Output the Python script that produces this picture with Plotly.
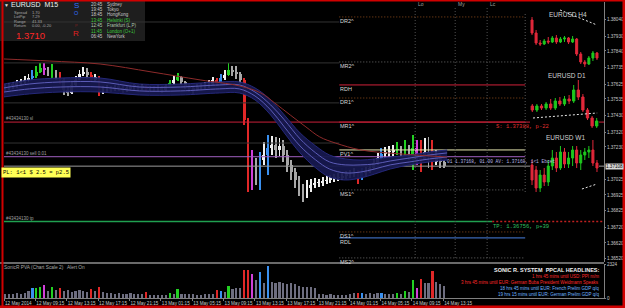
import plotly.graph_objects as go

W, H = 625, 308
def PX(x): return x / W
def PY(y): return 1 - y / H

# ---------------- data ----------------
time_labels = ["12 May 2014", "12 May 09:15", "12 May 13:15", "12 May 17:15", "12 May 21:15",
               "13 May 01:15", "13 May 05:15", "13 May 09:15", "13 May 13:15", "13 May 17:15",
               "13 May 21:15", "14 May 01:15", "14 May 05:15", "14 May 09:15", "14 May 13:15"]
bars_per_label = 16          # 4 hours of M15 bars
bars_per_sample = 2          # each sample below covers 30 minutes (2 M15 bars)

m15_first_open = 1.37598
m15_close = [1.37605, 1.37618, 1.37624, 1.37637, 1.37643, 1.37656, 1.37668, 1.37681, 1.37707, 1.37732,
             1.37719, 1.37707, 1.37694, 1.37687, 1.37656, 1.37592, 1.37573, 1.37624, 1.37656, 1.37694,
             1.37707, 1.37687, 1.37656, 1.37675, 1.37573, 1.37592, 1.37605, 1.37599, 1.37611, 1.37605,
             1.37592, 1.37599, 1.37611, 1.37618, 1.37605, 1.37611, 1.37599, 1.37605, 1.37599, 1.37605,
             1.37592, 1.37618, 1.37637, 1.37656, 1.37675, 1.37643, 1.37618, 1.37605, 1.37592, 1.37611,
             1.37618, 1.37624, 1.37630, 1.37656, 1.37637, 1.37668, 1.37687, 1.37719, 1.37707, 1.37694,
             1.37656, 1.37402, 1.37052, 1.37116, 1.37052, 1.37147, 1.37179, 1.37224, 1.37243, 1.37211,
             1.37236, 1.37179, 1.37116, 1.37071, 1.37020, 1.36957, 1.36925, 1.36969, 1.36989, 1.37001,
             1.37001, 1.37014, 1.37020, 1.37027, 1.37033, 1.37039, 1.37046, 1.37052, 1.37058, 1.37071,
             1.37033, 1.37065, 1.37071, 1.37097, 1.37128, 1.37160, 1.37186, 1.37198, 1.37198, 1.37211,
             1.37217, 1.37205, 1.37224, 1.37179, 1.37224, 1.37166, 1.37147, 1.37198, 1.37173, 1.37135,
             1.37160, 1.37135, 1.37109]
m15_high = [1.37630, 1.37637, 1.37643, 1.37656, 1.37662, 1.37681, 1.37694, 1.37719, 1.37745, 1.37764,
            1.37764, 1.37738, 1.37757, 1.37719, 1.37707, 1.37668, 1.37618, 1.37643, 1.37681, 1.37719,
            1.37738, 1.37732, 1.37707, 1.37694, 1.37681, 1.37618, 1.37624, 1.37618, 1.37624, 1.37624,
            1.37618, 1.37618, 1.37624, 1.37630, 1.37624, 1.37630, 1.37624, 1.37618, 1.37618, 1.37624,
            1.37618, 1.37630, 1.37656, 1.37681, 1.37700, 1.37681, 1.37649, 1.37630, 1.37618, 1.37630,
            1.37637, 1.37643, 1.37656, 1.37675, 1.37668, 1.37694, 1.37719, 1.37764, 1.37745, 1.37745,
            1.37707, 1.37668, 1.37414, 1.37211, 1.37160, 1.37198, 1.37262, 1.37306, 1.37300, 1.37294,
            1.37287, 1.37274, 1.37211, 1.37147, 1.37097, 1.37046, 1.36995, 1.37020, 1.37027, 1.37033,
            1.37027, 1.37039, 1.37046, 1.37052, 1.37058, 1.37065, 1.37071, 1.37078, 1.37084, 1.37097,
            1.37084, 1.37097, 1.37103, 1.37122, 1.37154, 1.37192, 1.37224, 1.37230, 1.37236, 1.37243,
            1.37262, 1.37236, 1.37274, 1.37243, 1.37306, 1.37274, 1.37274, 1.37287, 1.37294, 1.37274,
            1.37211, 1.37179, 1.37147]
m15_low = [1.37586, 1.37592, 1.37599, 1.37605, 1.37618, 1.37630, 1.37643, 1.37656, 1.37668, 1.37700,
           1.37687, 1.37681, 1.37668, 1.37656, 1.37630, 1.37560, 1.37554, 1.37567, 1.37618, 1.37656,
           1.37681, 1.37662, 1.37643, 1.37649, 1.37554, 1.37567, 1.37579, 1.37579, 1.37586, 1.37586,
           1.37573, 1.37579, 1.37592, 1.37592, 1.37586, 1.37592, 1.37579, 1.37586, 1.37579, 1.37586,
           1.37573, 1.37586, 1.37605, 1.37624, 1.37649, 1.37624, 1.37599, 1.37579, 1.37567, 1.37586,
           1.37592, 1.37599, 1.37605, 1.37624, 1.37618, 1.37630, 1.37656, 1.37681, 1.37681, 1.37662,
           1.37630, 1.37370, 1.36944, 1.36957, 1.36989, 1.36957, 1.37116, 1.37052, 1.37179, 1.37160,
           1.37173, 1.37135, 1.37071, 1.37020, 1.36969, 1.36919, 1.36881, 1.36906, 1.36944, 1.36969,
           1.36976, 1.36982, 1.36995, 1.37001, 1.37008, 1.37014, 1.37020, 1.37027, 1.37033, 1.37039,
           1.36995, 1.37020, 1.37046, 1.37065, 1.37084, 1.37116, 1.37147, 1.37160, 1.37166, 1.37173,
           1.37179, 1.37173, 1.37179, 1.37147, 1.37084, 1.37116, 1.37071, 1.37147, 1.37097, 1.37084,
           1.37116, 1.37097, 1.37097]
# PVA class per sample: n normal, g climax bull, r climax bear, b rising bull, m rising bear
pva_class = list("nnnnnnnbgg" "mngnrnnnnn" "nnrnrnnnnn" "nnnnnnrnnn" "nngngnnnnn"
                 "nnnnrbngnn" "nrrmnbnbnn" "nnnnnnnnnn" "nnnnnnnnnn" "rbnnnnbnnn"
                 "gngngmrnnr" "nnn")
volume = [280, 300, 250, 320, 300, 350, 490, 700, 700, 770,
          900, 490, 770, 560, 700, 500, 560, 450, 500, 540,
          500, 420, 630, 500, 770, 420, 380, 320, 300, 350,
          280, 300, 330, 290, 310, 250, 420, 210, 220, 200,
          230, 210, 350, 250, 630, 300, 280, 250, 260, 220,
          240, 300, 260, 280, 560, 490, 420, 840, 630, 700,
          700, 1960, 1960, 1680, 1260, 1820, 1050, 2240, 1120, 1050,
          1100, 1050, 1000, 1050, 980, 840, 800, 800, 760, 700,
          280, 250, 230, 260, 210, 240, 220, 210, 280, 350,
          350, 350, 280, 350, 280, 350, 350, 280, 280, 300,
          350, 300, 490, 420, 1260, 700, 1330, 1050, 1050, 1890,
          1120, 980, 840]
volume_max_label = 2324

# Moving-average ribbon (M15 bar index, price)
ribbon_t = [0, 13, 29, 49, 69, 90, 110, 120, 128, 136, 143, 151, 159, 166, 174, 182, 189, 197, 207, 217, 226]
ribbon_upper = [1.37630, 1.37656, 1.37668, 1.37668, 1.37630, 1.37630, 1.37643, 1.37643, 1.37605, 1.37529, 1.37433,
                1.37319, 1.37236, 1.37179, 1.37154, 1.37147, 1.37154, 1.37166, 1.37179, 1.37198, 1.37211]
ribbon_fast = [1.37605, 1.37630, 1.37643, 1.37643, 1.37611, 1.37611, 1.37624, 1.37624, 1.37579, 1.37497, 1.37402,
               1.37281, 1.37192, 1.37135, 1.37116, 1.37116, 1.37122, 1.37141, 1.37160, 1.37179, 1.37192]
ribbon_slow = [1.37579, 1.37599, 1.37611, 1.37611, 1.37586, 1.37586, 1.37599, 1.37599, 1.37554, 1.37465, 1.37357,
               1.37236, 1.37147, 1.37090, 1.37065, 1.37071, 1.37090, 1.37116, 1.37135, 1.37154, 1.37166]
ribbon_lower = [1.37548, 1.37567, 1.37579, 1.37579, 1.37560, 1.37560, 1.37573, 1.37573, 1.37529, 1.37433, 1.37319,
                1.37192, 1.37097, 1.37039, 1.37020, 1.37033, 1.37058, 1.37090, 1.37116, 1.37135, 1.37147]
slow_ma_t = [0, 23, 49, 75, 100, 120, 131, 138, 146, 154, 161, 169, 182, 202, 226]
slow_ma = [1.37789, 1.37776, 1.37757, 1.37707, 1.37656, 1.37618, 1.37573, 1.37510, 1.37433, 1.37357,
           1.37294, 1.37255, 1.37211, 1.37186, 1.37166]

# Daily pivot levels (drawn from the start of 14 May)
pivot_names = ["DR2^", "MR2^", "RDH", "DR1^", "MR1^", "PV1^", "MS1^", "DS1^", "RDL", "MS2^"]
pivot_prices = [1.38056, 1.37770, 1.37624, 1.37541, 1.37388, 1.37211, 1.36957, 1.36690, 1.36652, 1.36525]
prev_levels = [1.38024, 1.37764, 1.37510, 1.37255]

order_ticket = "#43434130"
order_open = 1.37168
order_sl = 1.37388
order_tp = 1.36756
bid = 1.37108
session_t = [209.7, 230.1, 246.4]
session_names = ["Lo", "My", "Lc"]

price_ticks = [1.38040, 1.37930, 1.37840, 1.37735, 1.37625, 1.37535, 1.37430, 1.37320, 1.37230,
               1.37025, 1.36925, 1.36825, 1.36720, 1.36620, 1.36520]

# Mini charts
h4_open = [1.37864, 1.37630, 1.37450, 1.37432, 1.37486, 1.37468, 1.37540, 1.37468, 1.37522, 1.37540, 1.37468, 1.37522, 1.37252, 1.37108, 1.37072, 1.37180, 1.37270]
h4_high = [1.37918, 1.37684, 1.37504, 1.37522, 1.37558, 1.37576, 1.37594, 1.37558, 1.37576, 1.37558, 1.37576, 1.37540, 1.37288, 1.37144, 1.37216, 1.37306, 1.37288]
h4_low = [1.37594, 1.37414, 1.37396, 1.37414, 1.37432, 1.37450, 1.37432, 1.37450, 1.37468, 1.37432, 1.37450, 1.37216, 1.37072, 1.37018, 1.37054, 1.37126, 1.37144]
h4_close = [1.37630, 1.37450, 1.37432, 1.37486, 1.37468, 1.37540, 1.37468, 1.37522, 1.37540, 1.37468, 1.37522, 1.37252, 1.37108, 1.37072, 1.37180, 1.37270, 1.37180]
h4_trend_x = [6.9, 16.0]
h4_trend_y = [1.38044, 1.37774]

d1_open = [1.3844, 1.3820, 1.3844, 1.3832, 1.3856, 1.3832, 1.3874, 1.3856, 1.3886, 1.3874, 1.3940, 1.3898, 1.3820, 1.3772, 1.3724]
d1_high = [1.3856, 1.3856, 1.3856, 1.3868, 1.3886, 1.3892, 1.3898, 1.3904, 1.3910, 1.3970, 1.4000, 1.3916, 1.3832, 1.3784, 1.3772]
d1_low = [1.3808, 1.3808, 1.3820, 1.3820, 1.3820, 1.3820, 1.3844, 1.3844, 1.3856, 1.3862, 1.3880, 1.3808, 1.3760, 1.3712, 1.3712]
d1_close = [1.3820, 1.3844, 1.3832, 1.3856, 1.3832, 1.3874, 1.3856, 1.3886, 1.3874, 1.3940, 1.3898, 1.3820, 1.3772, 1.3724, 1.3754]
d1_trend_x = [0.15, 14.1]
d1_trend_y = [1.3772, 1.3802]

w1_open = [1.3740, 1.3700, 1.3556, 1.3660, 1.3604, 1.3732, 1.3796, 1.3716, 1.3844, 1.3748, 1.3796, 1.3860, 1.3756, 1.3820, 1.3844, 1.3860, 1.3756]
w1_high = [1.3780, 1.3732, 1.3700, 1.3716, 1.3780, 1.3860, 1.3844, 1.3892, 1.3876, 1.3844, 1.3892, 1.3892, 1.3860, 1.3876, 1.3892, 1.3940, 1.3780]
w1_low = [1.3580, 1.3524, 1.3524, 1.3572, 1.3572, 1.3700, 1.3684, 1.3700, 1.3716, 1.3716, 1.3732, 1.3716, 1.3700, 1.3780, 1.3796, 1.3732, 1.3684]
w1_close = [1.3620, 1.3556, 1.3660, 1.3604, 1.3732, 1.3796, 1.3716, 1.3844, 1.3748, 1.3796, 1.3860, 1.3756, 1.3820, 1.3844, 1.3860, 1.3756, 1.3716]
w1_trend_x = [12.3, 16.0]
w1_trend_y = [1.3548, 1.3588]

headline_title = "SONIC R. SYSTEM  PPCAL HEADLINES:"
headlines = ["1 hrs 45 mins until USD: PPI m/m",
             "3 hrs 45 mins until EUR: German Buba President Weidmann Speaks",
             "18 hrs 45 mins until EUR: French Prelim GDP q/q",
             "19 hrs 15 mins until EUR: German Prelim GDP q/q"]
headline_colors = ["#ff2a2a", "#ff2a2a", "#6fb4ff", "#6fb4ff"]

session_clock = ["20:45", "19:45", "18:45", "13:45", "12:45", "11:45", "06:45"]
session_city = ["Sydney", "Tokyo", "HongKong", "Helsinki (S)", "Frankfurt (L,P)", "London (O+1)", "NewYork"]
session_color = ["#c8c8c8", "#c8c8c8", "#c8c8c8", "#3cc83c", "#b0c8b0", "#3cc83c", "#c8c8c8"]
info_labels = ["Spread", "LotPip", "Range", "Return"]
info_values = ["1.70", "7.29", "41.33", "0.00, -0.20"]
big_price = "1.3710"

# ---------------- geometry / styles ----------------
T_END = 306.0      # M15 bars visible across the chart
T_DAY = 171.0      # start of 14 May
T_FRAME = 265.8    # left edge of the mini-chart area
T_TP_SPLIT = 249.0
Y_MAX, Y_MIN = 1.38151, 1.36499
FONT = "Liberation Sans"
MONO = "Liberation Mono"

fig = go.Figure()

def hline(price, t0, t1, color, dash=None, width=1.0, xa="x", ya="y"):
    fig.add_trace(go.Scatter(x=[t0, t1], y=[price, price], mode="lines", xaxis=xa, yaxis=ya,
                             line=dict(color=color, width=width, dash=dash), hoverinfo="skip", showlegend=False))

DOT = "1px,2px"

# previous-day levels
for p in prev_levels:
    hline(p, 0, T_DAY, "#333333", None, 1)

# pivot levels
pivot_style = {"DR2^": ("#8a4a1a", DOT), "MR2^": ("#6a6a6a", DOT), "RDH": ("#d0203a", None),
               "DR1^": ("#8a4a1a", DOT), "MR1^": ("#c02030", None), "PV1^": ("#e8e8b0", None),
               "MS1^": ("#6a6a6a", DOT), "DS1^": ("#8a4a1a", DOT), "RDL": ("#4a80e0", None),
               "MS2^": ("#6a6a6a", DOT)}
for name, p in zip(pivot_names, pivot_prices):
    c, d = pivot_style[name]
    hline(p, T_DAY, T_FRAME, c, d, 1)

# order lines
hline(order_sl, 0, T_END, "#c8203a", None, 1)
hline(order_open, 0, T_FRAME, "#a060c0", None, 1)
hline(bid, 0, T_END, "#9a9a9a", None, 1)
hline(order_tp, 0, T_TP_SPLIT, "#20a050", None, 1.5)
hline(order_tp, T_TP_SPLIT, T_END, "#c02020", "2px,2px", 1.5)

# MA ribbon
fig.add_trace(go.Scatter(x=ribbon_t, y=ribbon_lower, mode="lines", line=dict(color="#25287a", width=1, shape="spline"),
                         hoverinfo="skip", showlegend=False))
fig.add_trace(go.Scatter(x=ribbon_t, y=ribbon_upper, mode="lines", line=dict(color="#25287a", width=1, shape="spline"),
                         fill="tonexty", fillcolor="rgba(22,24,78,0.95)", hoverinfo="skip", showlegend=False))
for arr in (ribbon_fast, ribbon_slow):
    fig.add_trace(go.Scatter(x=ribbon_t, y=arr, mode="lines", line=dict(color="#5c5cb8", width=1, shape="spline"),
                             hoverinfo="skip", showlegend=False))
fig.add_trace(go.Scatter(x=slow_ma_t, y=slow_ma, mode="lines", line=dict(color="#8e2b2b", width=1, shape="spline"),
                         hoverinfo="skip", showlegend=False))

# candles
n = len(m15_close)
t = [bars_per_sample * j + 0.5 for j in range(n)]
opens = [m15_first_open] + m15_close[:-1]
pva_colors = {"g": "#22d022", "b": "#3a90f0", "r": "#e02828", "m": "#d040d8"}
vol_colors, candle_colors = [], []
for j in range(n):
    k = pva_class[j]
    if k == "n":
        candle_colors.append("#f0f0f0" if m15_close[j] >= opens[j] else "#a8a8a8")
        vol_colors.append("#6e6e80")
    else:
        candle_colors.append(pva_colors[k])
        vol_colors.append(pva_colors[k])
fig.add_trace(go.Bar(x=t, y=[h - l for h, l in zip(m15_high, m15_low)], base=m15_low, width=0.5,
                     marker=dict(color=candle_colors, line=dict(width=0)), hoverinfo="skip", showlegend=False))
fig.add_trace(go.Bar(x=t, y=[max(abs(c - o), 0.00003) for c, o in zip(m15_close, opens)],
                     base=[min(c, o) for c, o in zip(m15_close, opens)], width=1.4,
                     marker=dict(color=candle_colors, line=dict(width=0)), hoverinfo="skip", showlegend=False))

# volume
fig.add_trace(go.Bar(x=t, y=volume, width=1.1, xaxis="x2", yaxis="y2",
                     marker=dict(color=vol_colors, line=dict(width=0)), hoverinfo="skip", showlegend=False))

# mini charts
def mini(o, h, l, c, xa, ya, tx, ty):
    fig.add_trace(go.Candlestick(x=list(range(len(o))), open=o, high=h, low=l, close=c, xaxis=xa, yaxis=ya,
                                 increasing=dict(line=dict(color="#1ec81e", width=1), fillcolor="#1ec81e"),
                                 decreasing=dict(line=dict(color="#e0283a", width=1), fillcolor="#e0283a"),
                                 whiskerwidth=0, hoverinfo="skip", showlegend=False))
    fig.add_trace(go.Scatter(x=tx, y=ty, mode="lines", xaxis=xa, yaxis=ya,
                             line=dict(color="#e8e8e8", width=1, dash="2px,2px"), hoverinfo="skip", showlegend=False))

mini(h4_open, h4_high, h4_low, h4_close, "x3", "y3", h4_trend_x, h4_trend_y)
mini(d1_open, d1_high, d1_low, d1_close, "x4", "y4", d1_trend_x, d1_trend_y)
mini(w1_open, w1_high, w1_low, w1_close, "x5", "y5", w1_trend_x, w1_trend_y)

# ---------------- layout ----------------
ann = []
def text(x, y, s, size=5.5, color="#c8c8c8", xanchor="left", yanchor="middle", family=FONT, xref="paper", yref="paper", **kw):
    kw.setdefault("borderpad", 0)
    ann.append(dict(x=x, y=y, text=s, showarrow=False, xref=xref, yref=yref, xanchor=xanchor, yanchor=yanchor,
                    font=dict(size=size, color=color, family=family), **kw))

# pivot labels
for name, p in zip(pivot_names, pivot_prices):
    text(T_DAY, p, name, 5.5, "#d8d8d8", "left", "top", xref="x", yref="y")
# order labels (left)
text(0.5, order_sl, order_ticket + " sl", 4.5, "#a0a0a0", "left", "bottom", xref="x", yref="y")
text(0.5, order_open, order_ticket + " sell 0.01", 4.5, "#a0a0a0", "left", "bottom", xref="x", yref="y")
text(0.5, order_tp, order_ticket + " tp", 4.5, "#a0a0a0", "left", "bottom", xref="x", yref="y")
text(PX(1), PY(172), "PL: 1&lt;1 $ 2.5 = p2.5", 5.5, "#000000", "left", "middle", MONO, bgcolor="#ffff55", borderpad=1)
text(250.5, order_sl, "S: %.5f, p-22" % order_sl, 5.5, "#e03030", "left", "top", MONO, xref="x", yref="y")
text(T_TP_SPLIT, order_tp, "TP: %.5f, p+39" % order_tp, 5.5, "#30c060", "left", "top", MONO, xref="x", yref="y")
text(225.5, 1.37135, "01 %.5f, 01.00 AV: %.5f, 1&lt;1 Ebcet" % (order_open, order_open), 4.5, "#b8b8e8", "left", "middle", MONO,
     xref="x", yref="y")
# current bid label on price scale
text(PX(605), bid, "%.5f" % bid, 4.6, "#000000", "left", "middle", yref="y", bgcolor="#d8d8d8")
# session markers
for st, sn in zip(session_t, session_names):
    text(st + 1, PY(4), sn, 5, "#a0a0a0", "left", "middle", xref="x")

# mini chart titles
text(PX(548), PY(15), "EURUSD H4", 6.5, "#d0d0d0")
text(PX(547), PY(76), "EURUSD D1", 6.5, "#d0d0d0")
text(PX(545), PY(137), "EURUSD W1", 6.5, "#d0d0d0")

# info panel
text(PX(3), PY(4.8), "▼", 5, "#e0e0e0")
text(PX(10), PY(4.8), "EURUSD  M15", 7, "#f0f0f0")
for i, (lab, val) in enumerate(zip(info_labels, info_values)):
    y = 12.6 + 4.3 * i
    text(PX(13), PY(y), lab, 4.0, "#a8a8a8")
    text(PX(31), PY(y), val, 4.0, "#a8a8a8")
text(PX(15), PY(35), big_price, 9.5, "#ff2828")
text(PX(76), PY(5.5), "S", 8, "#2f6fff", "center")
text(PX(76), PY(12.5), "O", 5.5, "#2f6fff", "center")
text(PX(76), PY(26), "P", 4, "#802020", "center")
text(PX(76), PY(34), "R", 8, "#e02020", "center")
for i, (clk, city, col) in enumerate(zip(session_clock, session_city, session_color)):
    y = 4.2 + 5.4 * i
    text(PX(90), PY(y), clk, 4.5, col)
    text(PX(106), PY(y), city, 4.5, col)

# volume panel texts
text(PX(3), PY(267.5), "SonicR PVA (Chart Scale 2)   Alert On", 4.8, "#a8a8a8")
text(PX(600), PY(270), "<b>" + headline_title + "</b>", 5.5, "#f0f0f0", "right")
for i, (hl, hc) in enumerate(zip(headlines, headline_colors)):
    text(PX(600), PY(276 + 6 * i), hl, 4.5, hc, "right")

shapes = [
    dict(type="rect", xref="paper", yref="paper", x0=0, x1=PX(145), y0=PY(41), y1=1, fillcolor="#1e1e1e",
         line=dict(width=0), layer="below"),
    dict(type="rect", xref="paper", yref="paper", x0=0, x1=PX(604), y0=PY(264), y1=PY(262), fillcolor="#6a6a6a",
         line=dict(width=0)),
    dict(type="line", xref="x", yref="paper", x0=T_FRAME, x1=T_FRAME, y0=PY(192), y1=PY(12),
         line=dict(color="#5a5a5a", width=1, dash=DOT)),
    dict(type="rect", xref="paper", yref="paper", x0=0, x1=1, y0=PY(1.5), y1=1, fillcolor="#d00000", line=dict(width=0)),
    dict(type="rect", xref="paper", yref="paper", x0=PX(1.5), x1=PX(3.5), y0=0, y1=1, fillcolor="#d00000", line=dict(width=0)),
    dict(type="rect", xref="paper", yref="paper", x0=PX(622.5), x1=1, y0=0, y1=1, fillcolor="#d00000", line=dict(width=0)),
    dict(type="rect", xref="paper", yref="paper", x0=0, x1=1, y0=0, y1=PY(305.5), fillcolor="#d00000", line=dict(width=0)),
]
for st in session_t:
    shapes.append(dict(type="line", xref="x", yref="paper", x0=st, x1=st, y0=PY(258), y1=PY(8),
                       line=dict(color="#505050", width=1, dash=DOT)))

axis_font = dict(size=4.6, color="#c8c8c8", family=FONT)
hidden = dict(visible=False, showgrid=False, zeroline=False, fixedrange=True, automargin=False)
fig.update_layout(
    width=W, height=H, margin=dict(l=0, r=0, t=0, b=0, autoexpand=False),
    paper_bgcolor="#000000", plot_bgcolor="#000000", showlegend=False,
    barmode="overlay", bargap=0, annotations=ann, shapes=shapes,
    xaxis=dict(domain=[PX(4), PX(604)], range=[0, T_END], **hidden),
    yaxis=dict(domain=[PY(262), PY(2)], range=[Y_MIN, Y_MAX], side="right", tickvals=price_ticks,
               tickformat=".5f", ticks="outside", ticklen=1, tickcolor="#808080", showline=True,
               linecolor="#808080", linewidth=1, showgrid=False, zeroline=False, tickfont=axis_font,
               ticklabeloverflow="allow", fixedrange=True, automargin=False),
    xaxis2=dict(domain=[PX(4), PX(604)], range=[0, T_END], anchor="y2",
                tickvals=[bars_per_label * i for i in range(len(time_labels))], ticktext=time_labels,
                ticks="outside", ticklen=2, tickcolor="#808080", showline=True, linecolor="#808080",
                ticklabelposition="outside right", tickfont=axis_font, tickangle=0, showgrid=False, zeroline=False,
                ticklabeloverflow="allow", fixedrange=True, automargin=False),
    yaxis2=dict(domain=[PY(298), PY(264)], range=[0, 2380], anchor="x2", side="right",
                tickvals=[0, volume_max_label], ticktext=["0", str(volume_max_label)], ticks="outside", ticklen=1,
                tickcolor="#808080", showline=True, linecolor="#808080", showgrid=False, zeroline=False,
                tickfont=axis_font, ticklabeloverflow="allow", fixedrange=True, automargin=False),
    xaxis3=dict(domain=[PX(530), PX(599)], range=[-0.5, len(h4_open) - 0.5], anchor="y3",
                rangeslider=dict(visible=False), **hidden),
    yaxis3=dict(domain=[PY(70), PY(8)], range=[1.36964, 1.38080], anchor="x3", **hidden),
    xaxis4=dict(domain=[PX(530), PX(599)], range=[-0.5, len(d1_open) - 0.5], anchor="y4",
                rangeslider=dict(visible=False), **hidden),
    yaxis4=dict(domain=[PY(130), PY(76)], range=[1.3700, 1.4024], anchor="x4", **hidden),
    xaxis5=dict(domain=[PX(530), PX(599)], range=[-0.5, len(w1_open) - 0.5], anchor="y5",
                rangeslider=dict(visible=False), **hidden),
    yaxis5=dict(domain=[PY(195), PY(136)], range=[1.3500, 1.3972], anchor="x5", **hidden),
)

fig.write_html("out.html")
